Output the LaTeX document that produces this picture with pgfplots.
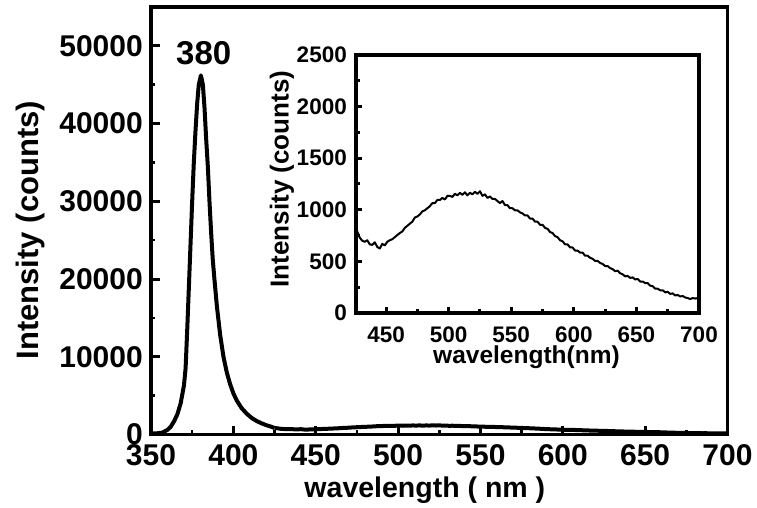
\documentclass[border=0pt]{standalone}
\usepackage{fontspec}
\setmainfont{Liberation Sans}
\usepackage{pgfplots}
\usepackage{pgfplotstable}
\pgfplotsset{compat=1.18}

% main emission peak (350-425 nm)
\pgfplotstableread{
wl    I
350   150
354   160
357   250
360   600
362   1000
364   1700
366   2600
368   4000
370   6300
371   8500
372   13500
373   19000
374   24500
375   30000
376   35000
377   39000
378   42500
379   45000
380.3 46200
381.5 45000
382.5 42000
383.5 38000
384.5 34500
385.5 30000
386.5 26000
387.5 22500
388.5 20000
390   16500
392   12800
394   10000
396   8000
398   6500
400   5300
402   4400
405   3400
408   2700
411   2150
414   1750
417   1450
420   1200
423   1000
425   840
}\peak

% visible band (425-700 nm), also shown in the inset
\pgfplotstableread{
wl   I
425  840
427  790
429  730
431  700
433  690
435  705
437  665
439  660
441  685
443  640
445  625
447  670
449  655
451  690
453  705
455  715
457  735
459  755
461  775
463  790
465  825
467  845
469  865
471  885
473  925
475  935
477  955
479  985
481  995
483  1015
485  1035
487  1065
489  1065
491  1095
493  1095
495  1115
497  1100
499  1135
501  1135
503  1125
505  1155
507  1140
509  1165
511  1145
513  1170
515  1140
517  1165
519  1150
521  1175
523  1155
525  1180
527  1135
529  1150
531  1115
533  1130
535  1105
537  1105
539  1085
541  1065
543  1085
545  1045
547  1045
549  1015
551  1015
553  995
555  995
557  975
559  965
561  945
563  945
565  915
567  915
569  885
571  885
573  855
575  855
577  825
579  815
581  785
583  775
585  745
587  735
589  705
591  695
593  665
595  665
597  635
599  635
601  605
603  605
605  585
607  585
609  555
611  555
613  535
615  525
617  505
619  505
621  485
623  475
625  455
627  455
629  435
631  425
633  405
635  410
637  385
639  375
641  355
643  360
645  340
647  345
649  325
651  330
653  305
655  305
657  290
659  290
661  265
663  260
665  235
667  235
669  220
671  220
673  200
675  205
677  185
679  190
681  170
683  175
685  160
687  165
689  150
691  145
693  135
695  145
697  140
699  145
700  135
}\band

\pgfplotsset{
  every axis/.append style={
    font=\bfseries,
    scale only axis,
    tick align=inside,
    xtick pos=bottom,
    ytick pos=left,
    scaled ticks=false,
    /pgf/number format/1000 sep={},
    /pgf/number format/assume math mode=true,
  },
}

\begin{document}
\begin{tikzpicture}
\useasboundingbox (-151pt,-73.5pt) rectangle (606pt,434.5pt);

\begin{axis}[
  at={(0pt,0pt)}, anchor=south west,
  width=576.5pt, height=427.5pt,
  xmin=350, xmax=700, ymin=0, ymax=55000,
  xtick={350,400,...,700},
  minor xtick={375,425,...,675},
  ytick={0,10000,...,50000},
  minor ytick={5000,15000,...,45000},
  axis line style={line width=3.5pt},
  major tick length=9pt, minor tick length=4.5pt,
  every major tick/.append style={line width=3pt, black},
  every minor tick/.append style={line width=2.5pt, black},
  xticklabel style={font=\bfseries\fontsize{30}{30}\selectfont, anchor=north, inner sep=0pt, yshift=-10pt},
  yticklabel style={font=\bfseries\fontsize{30}{30}\selectfont, anchor=east, inner sep=0pt, xshift=-8pt},
  xlabel={wavelength ( nm )},
  ylabel={Intensity (counts)},
  xlabel style={font=\bfseries\fontsize{28.5}{30}\selectfont, at={(axis description cs:0.475,-0.1298)}, anchor=center},
  ylabel style={font=\bfseries\fontsize{31}{32}\selectfont, at={(axis description cs:-0.2099,0.478)}, anchor=center},
]
  \addplot[black, line width=4pt, line join=round] table[x=wl, y=I] {\peak};
  \addplot[black, line width=4pt, line join=round] table[x=wl, y=I] {\band};
  \node[font=\bfseries\fontsize{33}{33}\selectfont] at (axis cs:382,49000) {380};
\end{axis}

\begin{axis}[
  at={(205pt,121.5pt)}, anchor=south west,
  width=343pt, height=258pt,
  xmin=426, xmax=700, ymin=0, ymax=2500,
  xtick={450,500,...,700},
  minor xtick={475,525,...,675},
  ytick={0,500,...,2500},
  minor ytick={250,750,...,2250},
  axis line style={line width=4.5pt},
  major tick length=6pt, minor tick length=4pt,
  every major tick/.append style={line width=3pt, black},
  every minor tick/.append style={line width=3pt, black},
  xticklabel style={font=\bfseries\fontsize{22.5}{22.5}\selectfont, anchor=north, inner sep=0pt, yshift=-13.5pt},
  yticklabel style={font=\bfseries\fontsize{22.5}{22.5}\selectfont, anchor=east, inner sep=0pt, xshift=-9pt},
  xlabel={wavelength(nm)},
  ylabel={Intensity (counts)},
  xlabel style={font=\bfseries\fontsize{24.5}{26}\selectfont, at={(axis description cs:0.497,-0.1705)}, anchor=center},
  ylabel style={font=\bfseries\fontsize{26}{28}\selectfont, at={(axis description cs:-0.2157,0.519)}, anchor=center},
]
  \addplot[black, line width=2pt, line join=round] table[x=wl, y=I] {\band};
\end{axis}
\end{tikzpicture}
\end{document}
